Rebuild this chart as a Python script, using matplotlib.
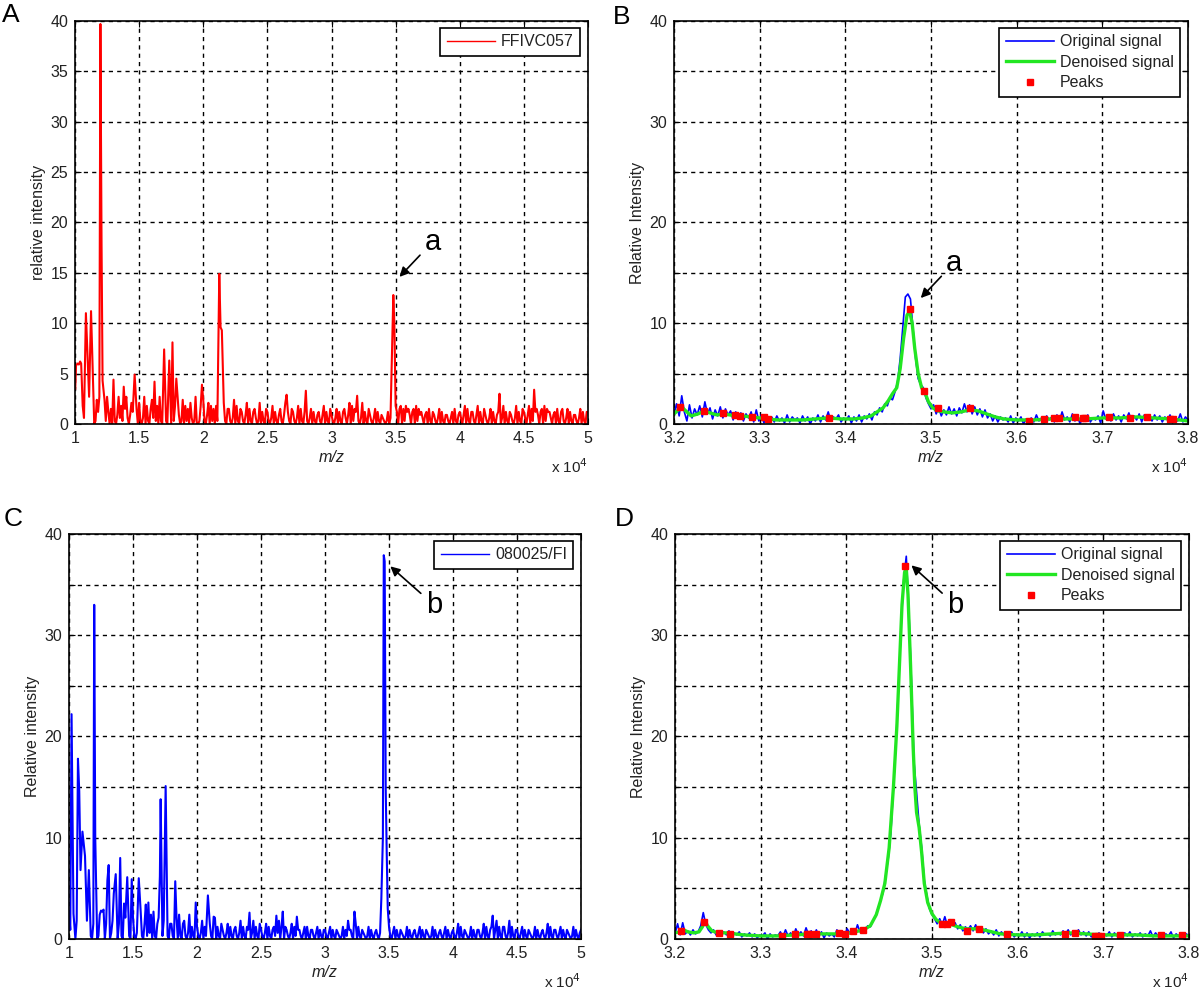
import numpy as np
import matplotlib
matplotlib.use("Agg")
import matplotlib.pyplot as plt
from matplotlib.ticker import MultipleLocator, FuncFormatter

plt.rcParams['font.family'] = ['Liberation Sans', 'DejaVu Sans']

# noise floor, one digit per 0.01 (x1e4) step, value = digit * 0.3
# each line covers 0.5 x 1e4 of m/z
noise_a_rows = [
    "8091706284" "0917201849" "2708194050" "8103926105" "9203740150",   # 1.00-1.49
    "7102906105" "8201609105" "6102807160" "9301806150" "7201900165",   # 1.50-1.99
    "8103706150" "6102907105" "5102806105" "4103705104" "5201704105",   # 2.00-2.49
    "4102604103" "5103704105" "4102605104" "3102504103" "4103604105",   # 2.50-2.99
    "3102504104" "5203706154" "5102704105" "3102504103" "2101402104",   # 3.00-3.49
    "6405605164" "5304506153" "4203405104" "3102504103" "3102405103",   # 3.50-3.99
    "4203605104" "4103604105" "3102504103" "4102604104" "3102604105",   # 4.00-4.49
    "4203605164" "5304506154" "4203405104" "5102504103" "3102504104",   # 4.50-4.99
    "4",                                                                 # 5.00
]
peak_a_x = [1.002, 1.008, 1.02, 1.03, 1.04, 1.048, 1.085, 1.10, 1.125, 1.14,
            1.198, 1.207, 1.215, 1.30, 1.38, 1.465, 1.62, 1.695, 1.735, 1.76,
            1.79, 1.99, 2.125, 2.135, 2.145, 2.65, 2.80, 3.20, 3.475, 3.482,
            3.49, 4.31, 4.58]
peak_a_y = [3.5, 5.8, 6.0, 5.9, 6.2, 6.0, 11.0, 6.0, 11.2, 4.6,
            39.7, 17.8, 4.3, 4.4, 3.7, 4.9, 4.2, 7.4, 6.3, 8.1,
            4.5, 3.9, 14.9, 9.6, 9.3, 2.9, 3.3, 2.8, 8.7, 12.8,
            10.0, 3.0, 3.4]

noise_c_rows = [
    "9304706150" "8302609105" "7201809105" "8102609105" "6102706105",   # 1.00-1.49
    "7102809105" "6102809105" "7201609105" "5102708105" "6102804105",   # 1.50-1.99
    "4102604103" "5103704105" "3102504103" "4102604104" "3102604105",   # 2.00-2.49
    "3102504103" "4102604104" "3102504103" "3102404103" "3102403103",   # 2.50-2.99
    "3102403103" "2101403103" "3102504103" "2101403102" "3102504453",   # 3.00-3.49
    "4102403103" "2101403102" "3102403103" "2101403102" "3102403102",   # 3.50-3.99
    "3102504103" "2101403103" "3102504103" "4103604104" "4102604103",   # 4.00-4.49
    "3102403103" "2101403102" "3102504103" "3102403103" "2101403102",   # 4.50-4.99
    "3",                                                                 # 5.00
]
peak_c_x = [1.02, 1.035, 1.07, 1.08, 1.09, 1.105, 1.125, 1.155, 1.197, 1.205,
            1.25, 1.27, 1.30, 1.31, 1.35, 1.365, 1.40, 1.43, 1.455, 1.49,
            1.545, 1.60, 1.62, 1.71, 1.716, 1.755, 1.83, 1.99, 2.085, 2.13,
            2.41, 2.62, 2.67, 2.78, 3.18, 3.23, 3.44, 3.452, 3.459, 3.466,
            3.474, 3.482, 3.49, 4.31]
peak_c_y = [22.2, 2.5, 17.8, 14.6, 6.8, 10.6, 8.2, 6.8, 33.0, 10.0,
            2.8, 2.9, 5.8, 7.3, 4.5, 6.4, 8.0, 3.5, 6.1, 5.9,
            6.0, 3.4, 3.6, 6.2, 13.8, 15.1, 5.7, 3.6, 4.3, 2.2,
            2.6, 2.3, 2.7, 2.2, 1.8, 2.7, 4.0, 10.0, 37.9, 37.3,
            14.9, 8.5, 3.0, 2.3]

# ---- panel B: original signal (grid 3.200..3.800 step 0.003), denoised, peaks
orig_b = [
    1.0, 2.0, 0.8, 2.8, 1.2, 0.3, 1.9, 0.6, 1.5, 0.9,
    1.8, 0.7, 2.2, 1.0, 1.6, 0.5, 1.4, 0.8, 1.7, 0.6,
    1.5, 0.9, 1.3, 0.4, 1.2, 0.7, 1.1, 0.3, 1.0, 0.6,
    1.2, 0.2, 1.4, 0.3, 0.9, 0.1, 0.8, 0.4, 0.7, 0.2,
    0.8, 0.3, 0.6, 0.1, 0.9, 0.2, 0.7, 0.4, 0.6, 0.1,
    0.8, 0.3, 0.7, 0.0, 0.6, 0.3, 0.9, 0.2, 0.8, 0.4,
    1.2, 0.3, 0.7, 0.5, 0.9, 0.2, 0.6, 0.4, 0.8, 0.1,
    0.7, 0.3, 0.9, 0.2, 0.8, 0.5, 1.0, 0.4, 1.2, 0.9,
    1.6, 1.2, 2.0, 1.8, 2.6, 2.4, 3.2, 4.2, 6.5, 9.5,
    12.6, 12.9, 12.4, 9.5, 6.5, 4.5, 3.9, 3.6, 2.6, 2.0,
    1.5, 1.9, 1.0, 1.6, 0.8, 1.4, 0.9, 1.7, 1.0, 1.5,
    0.8, 1.6, 1.1, 2.0, 1.2, 1.9, 1.0, 1.7, 0.9, 1.5,
    0.7, 1.4, 0.6, 1.0, 0.3, 0.8, 0.2, 0.7, 0.4, 0.6,
    0.2, 0.8, 0.1, 0.6, 0.3, 0.7, 0.0, 0.5, 0.3, 0.6,
    0.2, 0.9, 0.3, 0.6, 0.1, 0.8, 0.4, 0.7, 0.2, 0.9,
    0.3, 1.2, 0.4, 0.7, 0.2, 1.0, 0.3, 0.8, 0.0, 0.7,
    0.3, 0.9, 0.2, 0.6, 0.4, 0.8, 0.1, 1.3, 0.5, 0.9,
    0.3, 1.0, 0.4, 0.8, 0.2, 0.9, 0.5, 1.1, 0.3, 0.8,
    0.4, 1.0, 0.2, 0.9, 0.5, 0.7, 0.3, 0.9, 0.4, 0.8,
    0.2, 0.7, 0.4, 0.9, 0.1, 0.6, 0.3, 1.0, 0.2, 0.7,
    0.4,
]
den_b_x = [3.200, 3.205, 3.210, 3.215, 3.220, 3.228, 3.235, 3.242, 3.250, 3.258,
           3.265, 3.272, 3.280, 3.290, 3.300, 3.310, 3.320, 3.335, 3.350, 3.365,
           3.380, 3.395, 3.410, 3.420, 3.430, 3.437, 3.444, 3.450, 3.455, 3.460,
           3.464, 3.468, 3.472, 3.475, 3.478, 3.481, 3.485, 3.489, 3.493, 3.497,
           3.502, 3.508, 3.515, 3.525, 3.535, 3.545, 3.555, 3.565, 3.575, 3.585,
           3.600, 3.620, 3.640, 3.660, 3.680, 3.700, 3.720, 3.740, 3.760, 3.780,
           3.800]
den_b_y = [1.0, 1.4, 1.6, 1.2, 0.8, 1.0, 1.3, 1.1, 0.9, 1.0,
           0.9, 0.8, 0.8, 0.7, 0.6, 0.5, 0.4, 0.4, 0.4, 0.5,
           0.6, 0.5, 0.5, 0.6, 0.8, 1.2, 1.6, 2.3, 3.0, 3.6,
           5.5, 8.5, 10.8, 11.2, 10.0, 7.5, 5.0, 3.6, 3.1, 2.2,
           1.6, 1.3, 1.2, 1.1, 1.2, 1.4, 1.3, 1.0, 0.7, 0.5,
           0.4, 0.4, 0.5, 0.5, 0.5, 0.6, 0.6, 0.7, 0.6, 0.5,
           0.3]
peaks_b_x = [3.207, 3.235, 3.257, 3.271, 3.277, 3.291, 3.305, 3.310, 3.381, 3.475,
             3.492, 3.508, 3.545, 3.614, 3.632, 3.644, 3.649, 3.668, 3.677, 3.680,
             3.708, 3.732, 3.752, 3.779, 3.783]
peaks_b_y = [1.7, 1.3, 1.1, 0.9, 0.8, 0.7, 0.7, 0.5, 0.6, 11.4,
             3.3, 1.6, 1.6, 0.3, 0.5, 0.6, 0.6, 0.7, 0.6, 0.6,
             0.7, 0.6, 0.7, 0.5, 0.5]

# ---- panel D
orig_d = [
    0.5, 1.5, 0.4, 1.6, 0.5, 0.8, 0.4, 0.9, 0.5, 0.7,
    1.3, 2.6, 1.4, 0.9, 0.6, 0.9, 0.4, 0.8, 0.5, 0.7,
    0.4, 0.8, 0.3, 0.6, 0.4, 0.7, 0.2, 0.5, 0.3, 0.6,
    0.2, 0.5, 0.1, 0.4, 0.3, 0.6, 0.0, 0.5, 0.2, 0.4,
    0.3, 0.7, 0.2, 0.9, 0.3, 0.6, 0.2, 1.0, 0.4, 0.7,
    0.3, 1.1, 0.4, 0.8, 0.2, 0.9, 0.3, 0.7, 0.1, 0.6,
    0.3, 0.5, 0.2, 0.9, 0.4, 0.8, 0.3, 1.0, 0.6, 0.9,
    0.5, 1.4, 0.7, 1.0, 0.9, 1.3, 1.2, 1.8, 2.2, 3.0,
    3.8, 4.6, 6.3, 8.0, 10.5, 15.0, 19.5, 25.0, 31.0, 35.5,
    37.8, 32.5, 25.5, 17.5, 14.5, 11.3, 9.0, 5.8, 4.3, 3.0,
    2.4, 2.0, 1.5, 2.0, 1.4, 2.2, 1.3, 1.9, 1.4, 1.6,
    1.0, 1.4, 0.8, 1.2, 0.9, 1.3, 0.8, 1.4, 0.7, 1.1,
    0.6, 1.0, 0.5, 0.8, 0.4, 0.9, 0.3, 0.7, 0.4, 0.6,
    0.3, 0.7, 0.2, 0.5, 0.3, 0.7, 0.2, 0.6, 0.1, 0.5,
    0.3, 0.6, 0.2, 0.7, 0.4, 0.5, 0.3, 0.8, 0.4, 0.6,
    0.4, 0.8, 0.5, 0.9, 0.4, 0.8, 0.5, 0.9, 0.4, 0.7,
    0.3, 0.7, 0.2, 0.5, 0.3, 0.6, 0.1, 0.5, 0.3, 0.7,
    0.2, 0.6, 0.3, 0.5, 0.2, 0.6, 0.3, 0.7, 0.2, 0.5,
    0.3, 0.6, 0.2, 0.5, 0.3, 0.8, 0.2, 0.6, 0.3, 0.5,
    0.2, 0.5, 0.3, 0.7, 0.1, 0.5, 0.3, 0.6, 0.2, 0.5,
    0.3,
]
den_d_x = [3.200, 3.205, 3.210, 3.215, 3.222, 3.228, 3.232, 3.235, 3.238, 3.243,
           3.250, 3.260, 3.270, 3.280, 3.300, 3.320, 3.340, 3.360, 3.380, 3.400,
           3.410, 3.420, 3.428, 3.435, 3.440, 3.445, 3.450, 3.455, 3.459, 3.462,
           3.465, 3.468, 3.470, 3.472, 3.475, 3.478, 3.480, 3.482, 3.485, 3.488,
           3.491, 3.495, 3.500, 3.505, 3.510, 3.520, 3.530, 3.540, 3.550, 3.560,
           3.570, 3.580, 3.600, 3.620, 3.640, 3.660, 3.680, 3.700, 3.720, 3.740,
           3.760, 3.780, 3.800]
den_d_y = [0.6, 0.7, 0.9, 0.7, 0.6, 0.7, 1.2, 1.8, 1.3, 0.8,
           0.6, 0.6, 0.5, 0.4, 0.3, 0.3, 0.4, 0.5, 0.5, 0.5,
           0.7, 0.9, 1.3, 2.4, 3.8, 5.5, 9.0, 15.0, 21.0, 27.0,
           33.0, 36.2, 36.6, 34.0, 27.0, 19.0, 15.0, 12.5, 11.0, 8.5,
           5.5, 3.6, 2.5, 1.9, 1.6, 1.5, 1.2, 1.0, 1.0, 0.9,
           0.7, 0.5, 0.4, 0.4, 0.5, 0.6, 0.5, 0.4, 0.4, 0.4,
           0.3, 0.3, 0.3]
peaks_d_x = [3.207, 3.234, 3.251, 3.264, 3.325, 3.340, 3.354, 3.357, 3.365, 3.392,
             3.398, 3.408, 3.419, 3.469, 3.512, 3.518, 3.522, 3.541, 3.555, 3.587,
             3.655, 3.667, 3.690, 3.694, 3.697, 3.719, 3.767, 3.792]
peaks_d_y = [0.8, 1.7, 0.6, 0.5, 0.3, 0.5, 0.5, 0.5, 0.5, 0.6,
             0.5, 0.8, 0.9, 36.8, 1.5, 1.5, 1.7, 0.8, 1.0, 0.5,
             0.5, 0.6, 0.3, 0.3, 0.3, 0.4, 0.4, 0.4]

GREEN = '#22e622'
TXT = '#222222'


def digits(rows, scale=0.3):
    return np.array([int(c) * scale for c in "".join(rows)])


def merge(grid_x, grid_y, px, py, gap=0.006):
    # put the read-off peak tops into the sampled noise floor
    px = np.asarray(px)
    keep = [i for i in range(len(grid_x)) if np.min(np.abs(px - grid_x[i])) > gap]
    xs = np.concatenate([np.asarray(grid_x)[keep], px])
    ys = np.concatenate([np.asarray(grid_y)[keep], np.asarray(py)])
    order = np.argsort(xs, kind='stable')
    return xs[order], ys[order]


def style(ax, xlim, xstep, ylabel, label_every):
    ax.set_xlim(*xlim)
    ax.set_ylim(0, 40)
    ax.xaxis.set_major_locator(MultipleLocator(xstep))
    ax.yaxis.set_major_locator(MultipleLocator(5))
    ax.xaxis.set_major_formatter(FuncFormatter(lambda v, p: ('%.1f' % v).rstrip('0').rstrip('.')))
    ax.yaxis.set_major_formatter(FuncFormatter(
        lambda v, p: '%d' % v if int(round(v)) % label_every == 0 else ''))
    ax.tick_params(direction='in', top=True, right=True, length=4, width=0.8,
                   labelsize=11.5, labelcolor=TXT, pad=5)
    ax.grid(True, color='k', linestyle=(0, (3, 3)), linewidth=1.0)
    ax.set_axisbelow(True)
    for s in ax.spines.values():
        s.set_linewidth(1.2)
    ax.set_xlabel('m/z', style='italic', fontsize=11.5, color=TXT, labelpad=3)
    ax.set_ylabel(ylabel, fontsize=11.5, color=TXT, labelpad=3)
    ax.text(1.0, -0.083, r'x 10$^4$', transform=ax.transAxes, ha='right', va='top',
            fontsize=11, color=TXT)


def legend(ax, h, labels):
    lg = ax.legend(h, labels, loc='upper right', bbox_to_anchor=(0.985, 0.983),
                   borderaxespad=0, fancybox=False, framealpha=1, edgecolor='k',
                   fontsize=11.5, handlelength=3.0, handletextpad=0.4,
                   borderpad=0.4, labelspacing=0.35)
    lg.get_frame().set_linewidth(1.2)
    for t in lg.get_texts():
        t.set_color(TXT)


def arrow_label(ax, s, xy, xytext):
    ax.annotate(s, xy=xy, xytext=xytext, fontsize=21, ha='center', va='center',
                arrowprops=dict(arrowstyle='-|>', color='k', lw=1.2, mutation_scale=14,
                                shrinkA=2, shrinkB=0))


fig = plt.figure(figsize=(12, 9.89), dpi=100)

# A
axA = fig.add_axes([0.0625, 0.5713, 0.4275, 0.4075])
noise_a = digits(noise_a_rows)
xa, ya = merge(np.linspace(1, 5, len(noise_a)), noise_a, peak_a_x, peak_a_y)
la, = axA.plot(xa, ya, color='r', lw=1.5)
style(axA, (1, 5), 0.5, 'relative intensity', 5)
legend(axA, [la], ['FFIVC057'])
axA.get_legend().get_lines()[0].set_linewidth(1.0)
arrow_label(axA, 'a', (3.53, 14.6), (3.79, 18.1))

# B
axB = fig.add_axes([0.5617, 0.5713, 0.4283, 0.4075])
lb1, = axB.plot(np.linspace(3.2, 3.8, len(orig_b)), orig_b, color='b', lw=1.2)
lb2, = axB.plot(den_b_x, den_b_y, color=GREEN, lw=2.4)
lb3, = axB.plot(peaks_b_x, peaks_b_y, 's', color='r', ms=4, mec='r', ls='none')
style(axB, (3.2, 3.8), 0.1, 'Relative Intensity', 10)
legend(axB, [lb1, lb2, lb3], ['Original signal', 'Denoised signal', 'Peaks'])
arrow_label(axB, 'a', (3.488, 12.5), (3.527, 16.0))

# C
axC = fig.add_axes([0.0575, 0.0506, 0.4267, 0.4095])
noise_c = digits(noise_c_rows)
xc, yc = merge(np.linspace(1, 5, len(noise_c)), noise_c, peak_c_x, peak_c_y)
lc, = axC.plot(xc, yc, color='b', lw=1.5)
style(axC, (1, 5), 0.5, 'Relative intensity', 10)
legend(axC, [lc], ['080025/FI'])
axC.get_legend().get_lines()[0].set_linewidth(1.0)
arrow_label(axC, 'b', (3.51, 36.8), (3.85, 33.0))

# D
axD = fig.add_axes([0.5625, 0.0506, 0.4283, 0.4095])
ld1, = axD.plot(np.linspace(3.2, 3.8, len(orig_d)), orig_d, color='b', lw=1.2)
ld2, = axD.plot(den_d_x, den_d_y, color=GREEN, lw=2.4)
ld3, = axD.plot(peaks_d_x, peaks_d_y, 's', color='r', ms=4, mec='r', ls='none')
style(axD, (3.2, 3.8), 0.1, 'Relative Intensity', 10)
legend(axD, [ld1, ld2, ld3], ['Original signal', 'Denoised signal', 'Peaks'])
arrow_label(axD, 'b', (3.476, 36.9), (3.527, 33.0))

# panel letters
for s, x, y in [('A', 0.002, 0.997), ('B', 0.511, 0.995), ('C', 0.003, 0.487), ('D', 0.512, 0.487)]:
    fig.text(x, y, s, fontsize=19, ha='left', va='top', color='k')

fig.savefig('out.png', dpi=100)
